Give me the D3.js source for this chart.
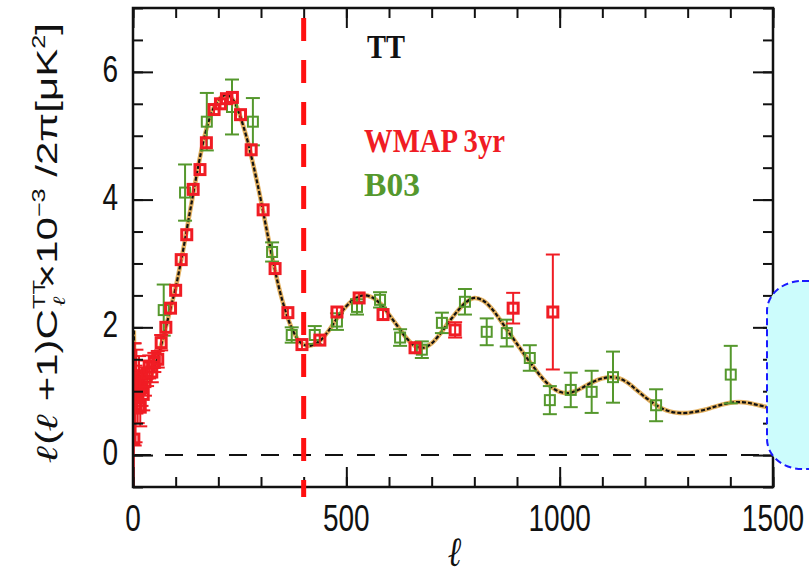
<!DOCTYPE html>
<html><head><meta charset="utf-8">
<script src="https://cdn.jsdelivr.net/npm/d3@7"></script>
<style>html,body{margin:0;padding:0;background:#fff;overflow:hidden}</style>
</head><body>
<svg id="c" width="809" height="576"></svg>
<script>
// ---- data ----
const wmapL = [2,4,6,8,11,14,17,20,24,28,33,38,44,50,58,66,77,88,100,113,126,141,157,172,190,205,219,233,252,277,305,333,363,396,438,478,530,586,661,755,891,984];
const wmapV = [0.25,0.95,0.8,1.15,0.9,1.2,0.75,1.05,0.95,1.15,1.28,1.38,1.3,1.45,1.5,1.76,2.0,2.3,2.58,3.06,3.45,4.16,4.47,4.89,5.41,5.5,5.58,5.6,5.33,4.78,3.84,2.92,2.23,1.73,1.8,2.24,2.46,2.2,1.68,1.96,2.3,2.24];
const wmapE = [1.5,0.8,0.6,0.5,0.4,0.35,0.3,0.28,0.25,0.22,0.2,0.18,0.16,0.15,0.13,0.12,0.1,0.1,0.08,0.08,0.08,0.08,0.08,0.08,0.08,0.08,0.08,0.08,0.08,0.08,0.08,0.08,0.08,0.08,0.08,0.08,0.08,0.09,0.1,0.12,0.24,0.9];
const b03L = [72,122,173,232,281,326,372,426,478,525,579,626,677,724,778,829,876,930,977,1026,1075,1125,1226,1401];
const b03V = [2.27,4.11,5.22,5.45,5.22,3.18,1.88,1.88,2.09,2.32,2.43,1.84,1.65,2.07,2.4,1.93,1.91,1.52,0.86,1.02,0.99,1.22,0.78,1.26];
const b03E = [0.4,0.44,0.45,0.43,0.37,0.15,0.12,0.14,0.13,0.12,0.12,0.13,0.13,0.16,0.2,0.21,0.21,0.2,0.22,0.27,0.33,0.4,0.25,0.45];
const theoryL = [2,4,7,10,15,20,30,40,50,60,70,80,90,100,110,120,130,140,150,160,170,180,190,200,210,220,230,240,250,260,270,280,290,300,310,320,330,340,350,360,370,380,390,400,410,420,440,460,480,500,520,540,560,580,600,620,640,660,680,700,720,740,760,780,800,820,840,860,880,900,920,940,960,980,1000,1020,1040,1060,1080,1100,1120,1140,1160,1180,1200,1220,1240,1260,1280,1300,1320,1340,1360,1380,1400,1420,1440,1460,1480,1500];
const theoryV = [1.95,1.35,1.1,1.02,1.0,1.02,1.1,1.22,1.38,1.58,1.82,2.08,2.35,2.62,2.95,3.3,3.68,4.05,4.42,4.76,5.05,5.28,5.45,5.56,5.62,5.64,5.6,5.5,5.33,5.12,4.88,4.6,4.3,3.98,3.64,3.3,2.98,2.68,2.42,2.2,2.02,1.88,1.78,1.73,1.71,1.72,1.8,1.96,2.16,2.33,2.45,2.5,2.47,2.37,2.2,2.02,1.84,1.71,1.68,1.75,1.9,2.08,2.25,2.39,2.46,2.42,2.3,2.12,1.93,1.74,1.55,1.37,1.2,1.07,0.99,0.97,1.01,1.08,1.15,1.2,1.22,1.2,1.13,1.02,0.91,0.81,0.73,0.68,0.66,0.66,0.68,0.71,0.75,0.79,0.82,0.83,0.82,0.79,0.76,0.72];
const xMajor = [0,500,1000,1500];
const xMinor = d3.range(0,1501,100);
const yMajor = [0,2,4,6];
const yMinor = d3.range(-0.5,7.01,0.5);
const cutL = 400;
const legendItems = ["WMAP 3yr","B03"];
const panelTitle = "TT";

// ---- layout ----
const L=133,R=773,T=8,B=487;
const svg=d3.select("#c");
const x=d3.scaleLinear().domain([0,1500]).range([L,R]);
const y=d3.scaleLinear().domain([-0.5,7]).range([B,T]);
const RED="#f01c24", GREEN="#55982d";

svg.append("defs").append("clipPath").attr("id","clip")
  .append("rect").attr("x",L).attr("y",T).attr("width",R-L).attr("height",B-T);

// zero dashed line
svg.append("line").attr("x1",L).attr("x2",R).attr("y1",y(0)).attr("y2",y(0))
  .attr("stroke","#111").attr("stroke-width",2).attr("stroke-dasharray","18,14");

// theory curve
const th=theoryL.map((l,i)=>[l,theoryV[i]]);
const line=d3.line().x(d=>x(d[0])).y(d=>y(d[1])).curve(d3.curveCatmullRom);
const pg=svg.append("g").attr("clip-path","url(#clip)");
pg.append("path").attr("d",line(th)).attr("fill","none").attr("stroke","#e2b060").attr("stroke-width",4.5);
pg.append("path").attr("d",line(th)).attr("fill","none").attr("stroke","#111").attr("stroke-width",2.2).attr("stroke-dasharray","4,2");

function drawSeries(Ls,Vs,Es,col,sw,sz,cap){
  const g=pg.append("g");
  Ls.forEach((l,i)=>{
    const cx=x(l),cy=y(Vs[i]),t=y(Vs[i]+Es[i]),b=y(Vs[i]-Es[i]);
    g.append("line").attr("x1",cx).attr("x2",cx).attr("y1",t).attr("y2",b).attr("stroke",col).attr("stroke-width",2);
    if (Es[i]>0.11){
      g.append("line").attr("x1",cx-cap).attr("x2",cx+cap).attr("y1",t).attr("y2",t).attr("stroke",col).attr("stroke-width",2);
      g.append("line").attr("x1",cx-cap).attr("x2",cx+cap).attr("y1",b).attr("y2",b).attr("stroke",col).attr("stroke-width",2);
    }
    g.append("rect").attr("x",cx-sz/2).attr("y",cy-sz/2).attr("width",sz).attr("height",sz)
      .attr("fill","none").attr("stroke",col).attr("stroke-width",sw);
  });
}
drawSeries(b03L,b03V,b03E,GREEN,2,10,7);
drawSeries(wmapL,wmapV,wmapE,RED,3,10,7);

// frame
svg.append("rect").attr("x",L).attr("y",T).attr("width",R-L).attr("height",B-T)
  .attr("fill","none").attr("stroke","#111").attr("stroke-width",2.5);

function ax(gen,tx,ty){ const g=svg.append("g").attr("transform",`translate(${tx},${ty})`).call(gen);
  g.select(".domain").remove(); g.selectAll("text").remove();
  g.selectAll("line").attr("stroke","#111").attr("stroke-width",2); return g;}
ax(d3.axisBottom(x).tickValues(xMinor).tickSize(-10),0,B);
ax(d3.axisBottom(x).tickValues(xMajor).tickSize(-20),0,B);
ax(d3.axisTop(x).tickValues(xMinor).tickSize(-10),0,T);
ax(d3.axisTop(x).tickValues(xMajor).tickSize(-20),0,T);
ax(d3.axisLeft(y).tickValues(yMinor).tickSize(-10),L,0);
ax(d3.axisLeft(y).tickValues(yMajor).tickSize(-20),L,0);
ax(d3.axisRight(y).tickValues(yMinor).tickSize(-10),R,0);
ax(d3.axisRight(y).tickValues(yMajor).tickSize(-20),R,0);

// tick labels
const tf="'Liberation Sans',Arial,sans-serif";
xMajor.forEach(v=>{
  svg.append("text").attr("transform",`translate(${x(v)},531) scale(1,1.3)`)
    .attr("text-anchor","middle").attr("font-family",tf).attr("font-size",28).attr("fill","#111").text(v);
});
yMajor.forEach(v=>{
  svg.append("text").attr("transform",`translate(118,${y(v)+10}) scale(1,1.3)`)
    .attr("text-anchor","end").attr("font-family",tf).attr("font-size",28).attr("fill","#111").text(v);
});

// red dashed vertical line
svg.append("line").attr("x1",x(cutL)).attr("x2",x(cutL)).attr("y1",18).attr("y2",497)
  .attr("stroke","#ff1010").attr("stroke-width",5).attr("stroke-dasharray","23,19");

// legend
const lf="'Liberation Serif','Times New Roman',serif";
svg.append("text").attr("transform","translate(367,58) scale(1,1.15)").attr("font-family",lf).attr("font-weight","bold")
  .attr("font-size",30).attr("fill","#111").attr("textLength",38).attr("lengthAdjust","spacingAndGlyphs").text(panelTitle);
svg.append("text").attr("transform","translate(364,152) scale(1,1.15)").attr("font-family",lf).attr("font-weight","bold")
  .attr("font-size",30).attr("fill",RED).attr("textLength",141).attr("lengthAdjust","spacingAndGlyphs").text(legendItems[0]);
svg.append("text").attr("transform","translate(364,196) scale(1,1.15)").attr("font-family",lf).attr("font-weight","bold")
  .attr("font-size",30).attr("fill",GREEN).attr("textLength",56).attr("lengthAdjust","spacingAndGlyphs").text(legendItems[1]);

// axis titles
svg.append("text").attr("transform","translate(455,566) scale(1,1.3)").attr("text-anchor","middle")
  .attr("font-family","'DejaVu Serif',serif").attr("font-style","italic").attr("font-weight","bold")
  .attr("font-size",32).attr("fill","#111").text("ℓ");
const yl=svg.append("text").attr("transform","translate(57,243) rotate(-90) scale(1.4,1)")
  .attr("text-anchor","middle").attr("font-family",tf).attr("font-size",30).attr("fill","#111");
yl.append("tspan").attr("font-family","'DejaVu Serif',serif").attr("font-style","italic").attr("font-weight","bold").text("ℓ");
yl.append("tspan").text("(");
yl.append("tspan").attr("font-family","'DejaVu Serif',serif").attr("font-style","italic").attr("font-weight","bold").text("ℓ");
yl.append("tspan").text(" +1)C");
yl.append("tspan").attr("font-size",17).attr("dy",-12).text("TT");
yl.append("tspan").attr("font-size",17).attr("dx",-19).attr("dy",20).attr("font-family","'DejaVu Serif',serif").attr("font-style","italic").text("ℓ");
yl.append("tspan").attr("dy",-8).attr("dx",6).text("×10");
yl.append("tspan").attr("font-size",18).attr("dy",-12).text("−3");
yl.append("tspan").attr("dy",12).text("  /2π[μK");
yl.append("tspan").attr("font-size",18).attr("dy",-12).text("2");
yl.append("tspan").attr("dy",12).text("]");

// cyan callout shape on right
svg.append("rect").attr("x",767).attr("y",281).attr("width",120).attr("height",188).attr("rx",35).attr("ry",30)
  .attr("fill","#ccfcfc").attr("stroke","#1a1aff").attr("stroke-width",2).attr("stroke-dasharray","7,4");
</script>
</body></html>
